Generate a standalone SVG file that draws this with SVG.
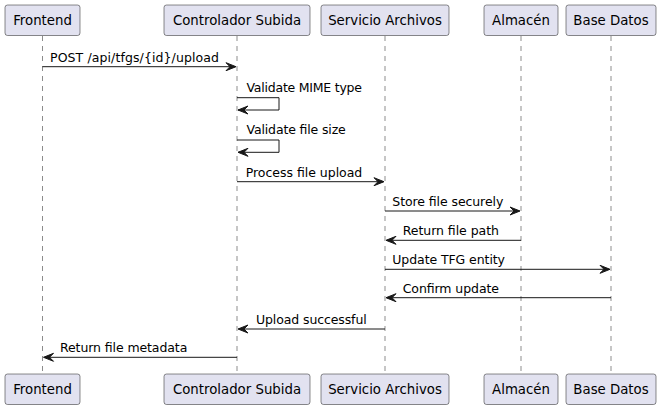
<svg xmlns="http://www.w3.org/2000/svg" width="660" height="410" viewBox="0 0 660 410">
<style>
.box{fill:#E2E2F0;stroke:#181818;stroke-width:0.5}
.pt{font-family:"DejaVu Sans",sans-serif;font-size:13.3px;fill:#000;text-anchor:middle}
.life{stroke:#181818;stroke-width:0.5;stroke-dasharray:5,5;fill:none}
.msg{stroke:#181818;stroke-width:1;fill:none}
.ah{fill:#181818;stroke:#181818;stroke-width:1}
.mt{font-family:"DejaVu Sans",sans-serif;font-size:12.5px;fill:#000}
</style>
<rect width="660" height="410" fill="#FFFFFF"/>
<g id="lifelines">
<line class="life" x1="42.5" y1="36" x2="42.5" y2="373"/>
<line class="life" x1="237" y1="36" x2="237" y2="373"/>
<line class="life" x1="385" y1="36" x2="385" y2="373"/>
<line class="life" x1="521" y1="36" x2="521" y2="373"/>
<line class="life" x1="611" y1="36" x2="611" y2="373"/>
</g>
<g id="frontend">
<rect class="box" x="5" y="5" width="75" height="30.5" rx="2.5"/>
<text class="pt" x="42.5" y="25">Frontend</text>
<rect class="box" x="5" y="374" width="75" height="30.5" rx="2.5"/>
<text class="pt" x="42.5" y="394">Frontend</text>
</g>
<g id="controlador">
<rect class="box" x="164" y="5" width="146" height="30.5" rx="2.5"/>
<text class="pt" x="237" y="25">Controlador Subida</text>
<rect class="box" x="164" y="374" width="146" height="30.5" rx="2.5"/>
<text class="pt" x="237" y="394">Controlador Subida</text>
</g>
<g id="servicio">
<rect class="box" x="321" y="5" width="128" height="30.5" rx="2.5"/>
<text class="pt" x="385" y="25">Servicio Archivos</text>
<rect class="box" x="321" y="374" width="128" height="30.5" rx="2.5"/>
<text class="pt" x="385" y="394">Servicio Archivos</text>
</g>
<g id="almacen">
<rect class="box" x="484" y="5" width="74" height="30.5" rx="2.5"/>
<text class="pt" x="521" y="25">Almacén</text>
<rect class="box" x="484" y="374" width="74" height="30.5" rx="2.5"/>
<text class="pt" x="521" y="394">Almacén</text>
</g>
<g id="basedatos">
<rect class="box" x="566" y="5" width="90" height="30.5" rx="2.5"/>
<text class="pt" x="611" y="25">Base Datos</text>
<rect class="box" x="566" y="374" width="90" height="30.5" rx="2.5"/>
<text class="pt" x="611" y="394">Base Datos</text>
</g>
<g id="connectors">
<!-- POST -->
<line class="msg" x1="42.5" y1="66.7" x2="235" y2="66.7"/>
<polygon class="ah" points="236,66.7 226,62.7 230,66.7 226,70.7"/>
<text class="mt" x="50" y="62" textLength="169">POST /api/tfgs/{id}/upload</text>
<!-- self 1 -->
<polyline class="msg" points="237,97.7 279,97.7 279,110 238,110"/>
<polygon class="ah" points="238,110 248,106 244,110 248,114"/>
<text class="mt" x="246.5" y="91.7" textLength="115.5">Validate MIME type</text>
<!-- self 2 -->
<polyline class="msg" points="237,140 279,140 279,152.3 238,152.3"/>
<polygon class="ah" points="238,152.3 248,148.3 244,152.3 248,156.3"/>
<text class="mt" x="246.5" y="134" textLength="99.3">Validate file size</text>
<!-- process -->
<line class="msg" x1="237" y1="181.7" x2="383" y2="181.7"/>
<polygon class="ah" points="384,181.7 374,177.7 378,181.7 374,185.7"/>
<text class="mt" x="245.7" y="176.7" textLength="116.6">Process file upload</text>
<!-- store -->
<line class="msg" x1="385" y1="211" x2="519" y2="211"/>
<polygon class="ah" points="520,211 510,207 514,211 510,215"/>
<text class="mt" x="392.3" y="206" textLength="111">Store file securely</text>
<!-- return path -->
<line class="msg" x1="387" y1="240.3" x2="521" y2="240.3"/>
<polygon class="ah" points="386,240.3 396,236.3 392,240.3 396,244.3"/>
<text class="mt" x="402.7" y="235.3" textLength="96.3">Return file path</text>
<!-- update -->
<line class="msg" x1="385" y1="269.3" x2="609" y2="269.3"/>
<polygon class="ah" points="610,269.3 600,265.3 604,269.3 600,273.3"/>
<text class="mt" x="392.3" y="264.3" textLength="112.7">Update TFG entity</text>
<!-- confirm -->
<line class="msg" x1="387" y1="297.7" x2="611" y2="297.7"/>
<polygon class="ah" points="386,297.7 396,293.7 392,297.7 396,301.7"/>
<text class="mt" x="402.7" y="292.7" textLength="96.3">Confirm update</text>
<!-- upload successful -->
<line class="msg" x1="239" y1="329" x2="385" y2="329"/>
<polygon class="ah" points="238,329 248,325 244,329 248,333"/>
<text class="mt" x="256" y="324" textLength="110.7">Upload successful</text>
<!-- return metadata -->
<line class="msg" x1="44.5" y1="357.3" x2="237" y2="357.3"/>
<polygon class="ah" points="43.5,357.3 53.5,353.3 49.5,357.3 53.5,361.3"/>
<text class="mt" x="60" y="352.3" textLength="127.3">Return file metadata</text>
</g>
</svg>
